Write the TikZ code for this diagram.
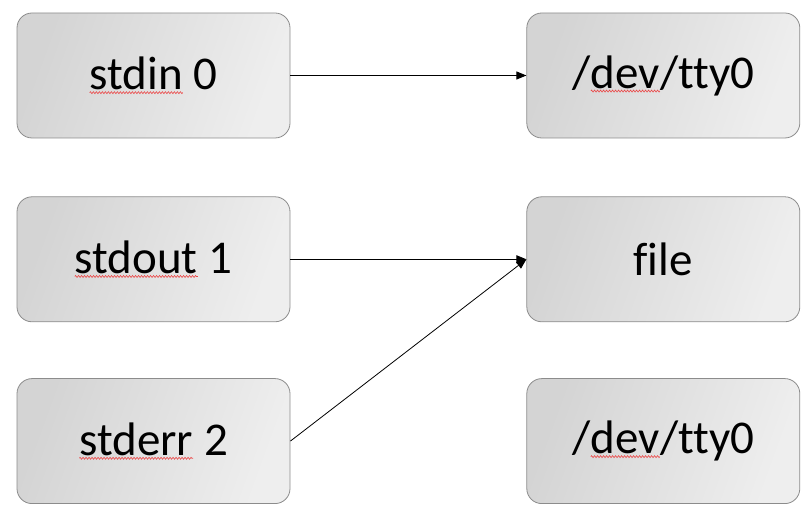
\documentclass[tikz,border=0pt]{standalone}
\usepackage{fontspec}
\setmainfont{Carlito}[Ligatures={NoCommon}]
\usepackage{tikz}
\usetikzlibrary{positioning}
\usetikzlibrary{arrows.meta}
\usetikzlibrary{decorations.pathmorphing}
\definecolor{boxline}{RGB}{140,140,140}
\definecolor{squiggle}{RGB}{235,70,70}
\tikzset{
fd_box/.style={rectangle, rounded corners=15pt, draw=boxline, line width=0.8pt, left color=gray!34, right color=gray!13, shading angle=70, minimum width=273pt, minimum height=125pt, font=\fontsize{47}{56}\selectfont},
redirect/.style={-{Triangle[length=10pt, width=8pt]}, line width=0.8pt},
wavy/.style={draw=squiggle, sharp corners, line width=0.6pt, decorate, decoration={zigzag, amplitude=1pt, segment length=3pt}}
}
% red spell-check wave under a word
\newcommand{\spellmark}[1]{\tikz[baseline=(word.base), sharp corners]{\node[inner sep=0pt, outer sep=0pt, draw=none, fill=none, minimum size=0pt] (word) {#1}; \path[wavy] ([yshift=-3pt]word.base west) -- ([yshift=-3pt]word.base east);}}
\begin{document}
\begin{tikzpicture}[x=1pt, y=1pt]
    \useasboundingbox (0,0) rectangle (808,516);
    \node[fd_box] (stdin) at (153.5,440.5) {\spellmark{stdin} 0};
    \node[fd_box] (stdout) [below=58pt of stdin] {\spellmark{stdout} 1};
    \node[fd_box] (stderr) [below=56pt of stdout] {\spellmark{stderr} 2};
    \node[fd_box] (tty_in) [right=236pt of stdin] {/\spellmark{dev}/tty0};
    \node[fd_box] (file) [right=236pt of stdout] {file};
    \node[fd_box] (tty_err) [right=236pt of stderr] {/\spellmark{dev}/tty0};
    \draw[redirect] (stdin) -- (tty_in);
    \draw[redirect] (stdout) -- (file);
    \draw[redirect] (stderr.east) -- (file.west);
\end{tikzpicture}
\end{document}
